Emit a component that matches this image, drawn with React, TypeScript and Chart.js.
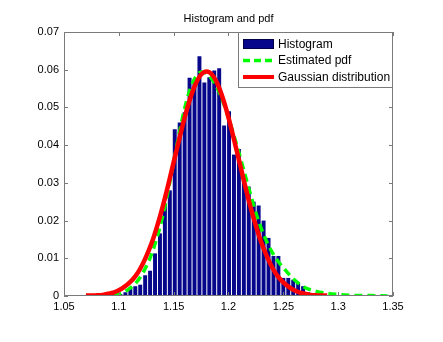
import React, { useEffect, useRef } from "react";
import { Chart, registerables } from "chart.js";

Chart.register(...registerables);

// Histogram bins (centres) and normalised heights
const binCenters = [
  1.1015, 1.106, 1.1105, 1.115, 1.1195, 1.124, 1.1285, 1.133, 1.1375, 1.142,
  1.1465, 1.151, 1.1555, 1.16, 1.1645, 1.169, 1.1735, 1.178, 1.1825, 1.187,
  1.1915, 1.196, 1.2005, 1.205, 1.2095, 1.214, 1.2185, 1.223, 1.2275, 1.232,
  1.2365, 1.241, 1.2455, 1.25, 1.2545, 1.259, 1.2635, 1.268, 1.2725, 1.277,
];
const binHeights = [
  0.0005, 0.001, 0.002, 0.0026, 0.003, 0.0055, 0.0067, 0.0113, 0.0166, 0.0245,
  0.028, 0.0442, 0.046, 0.0487, 0.0579, 0.057, 0.0636, 0.0566, 0.058, 0.0598,
  0.0604, 0.0452, 0.049, 0.0375, 0.039, 0.032, 0.029, 0.025, 0.024, 0.02,
  0.0154, 0.0106, 0.0106, 0.0048, 0.0048, 0.0043, 0.0034, 0.0026, 0.001, 0.0005,
];

// Estimated pdf (kernel density)
const estX = [
  1.095, 1.1, 1.105, 1.11, 1.115, 1.12, 1.125, 1.13, 1.135, 1.14, 1.145, 1.15,
  1.155, 1.16, 1.165, 1.17, 1.175, 1.18, 1.185, 1.19, 1.195, 1.2, 1.205, 1.21,
  1.215, 1.22, 1.225, 1.23, 1.235, 1.24, 1.245, 1.25, 1.255, 1.26, 1.265, 1.27,
  1.28, 1.29, 1.3, 1.31, 1.32, 1.33, 1.345,
];
const estY = [
  0.0002, 0.0006, 0.0011, 0.002, 0.0033, 0.0052, 0.0078, 0.0112, 0.0157, 0.0212,
  0.028, 0.0355, 0.043, 0.0497, 0.0548, 0.058, 0.0594, 0.059, 0.0575, 0.055,
  0.0515, 0.0472, 0.0425, 0.0375, 0.0322, 0.027, 0.022, 0.0178, 0.0143, 0.0115,
  0.0093, 0.0075, 0.0058, 0.0043, 0.0031, 0.0022, 0.0012, 0.0007, 0.0004, 0.0002,
  0.0001, 0.0001, 0.0,
];

// Gaussian distribution curve
const gaussX = [
  1.07, 1.075, 1.08, 1.085, 1.09, 1.095, 1.1, 1.105, 1.11, 1.115, 1.12, 1.125,
  1.13, 1.135, 1.14, 1.145, 1.15, 1.155, 1.16, 1.165, 1.17, 1.175, 1.18, 1.185,
  1.19, 1.195, 1.2, 1.205, 1.21, 1.215, 1.22, 1.225, 1.23, 1.235, 1.24, 1.245,
  1.25, 1.255, 1.26, 1.265, 1.27, 1.275, 1.28, 1.285, 1.29,
];
const gaussY = [
  0.0001, 0.0001, 0.0002, 0.0003, 0.0006, 0.0009, 0.0015, 0.0024, 0.0036, 0.0052,
  0.0075, 0.0105, 0.0141, 0.0186, 0.0237, 0.0294, 0.0355, 0.0415, 0.0473, 0.0523,
  0.0562, 0.0587, 0.0595, 0.0587, 0.0562, 0.0523, 0.0473, 0.0415, 0.0355, 0.0294,
  0.0237, 0.0186, 0.0141, 0.0105, 0.0075, 0.0052, 0.0036, 0.0024, 0.0015, 0.0009,
  0.0006, 0.0003, 0.0002, 0.0001, 0.0001,
];

const xTicks = [1.05, 1.1, 1.15, 1.2, 1.25, 1.3, 1.35];
const yTicks = [0, 0.01, 0.02, 0.03, 0.04, 0.05, 0.06, 0.07];
const titleText = "Histogram and pdf";
const legendLabels = ["Histogram", "Estimated pdf", "Gaussian distribution"];

const FONT = "'Liberation Sans', Arial, sans-serif";
const NAVY = "#07078c";
const GREEN = "#00ff00";
const RED = "#ff0000";

const matlabPlugin = {
  id: "matlabDecor",
  afterDraw(chart: any) {
    const ctx = chart.ctx as CanvasRenderingContext2D;
    const { left, right, top, bottom } = chart.chartArea;
    const xs = chart.scales.x;
    const ys = chart.scales.y;
    ctx.save();
    // box
    ctx.strokeStyle = "#7a7a7a";
    ctx.lineWidth = 1;
    ctx.strokeRect(Math.round(left) + 0.5, Math.round(top) + 0.5, Math.round(right - left) - 1, Math.round(bottom - top) - 1);
    // inward ticks
    ctx.beginPath();
    const tl = 4;
    xTicks.forEach((v) => {
      const px = Math.round(xs.getPixelForValue(v)) + 0.5;
      ctx.moveTo(px, bottom);
      ctx.lineTo(px, bottom - tl);
      ctx.moveTo(px, top);
      ctx.lineTo(px, top + tl);
    });
    yTicks.forEach((v) => {
      const py = Math.round(ys.getPixelForValue(v)) + 0.5;
      ctx.moveTo(left, py);
      ctx.lineTo(left + tl, py);
      ctx.moveTo(right, py);
      ctx.lineTo(right - tl, py);
    });
    ctx.stroke();

    // title
    ctx.fillStyle = "#000";
    ctx.font = `11px ${FONT}`;
    ctx.textAlign = "center";
    ctx.textBaseline = "middle";
    ctx.fillText(titleText, (left + right) / 2, 19);

    // legend
    const bx = 238.5, by = 32.5, bw = 154, bh = 55;
    ctx.fillStyle = "#fff";
    ctx.fillRect(bx, by, bw, bh);
    ctx.strokeStyle = "#7a7a7a";
    ctx.strokeRect(bx, by, bw, bh);
    const rows = [44, 60.5, 77];
    // histogram swatch
    ctx.fillStyle = NAVY;
    ctx.fillRect(243, 39, 31, 10);
    ctx.strokeStyle = "#000044";
    ctx.strokeRect(243.5, 39.5, 30, 9);
    // green dashed
    ctx.beginPath();
    ctx.setLineDash([7, 4]);
    ctx.strokeStyle = GREEN;
    ctx.lineWidth = 3.5;
    ctx.moveTo(243, rows[1]);
    ctx.lineTo(274, rows[1]);
    ctx.stroke();
    ctx.setLineDash([]);
    // red line
    ctx.beginPath();
    ctx.strokeStyle = RED;
    ctx.lineWidth = 4;
    ctx.moveTo(243, rows[2]);
    ctx.lineTo(274, rows[2]);
    ctx.stroke();
    ctx.fillStyle = "#000";
    ctx.textAlign = "left";
    ctx.font = `12px ${FONT}`;
    legendLabels.forEach((t, i) => ctx.fillText(t, 278, rows[i] + 0.5));
    ctx.restore();
  },
};

export default function App() {
  const ref = useRef<HTMLCanvasElement>(null);
  useEffect(() => {
    if (!ref.current) return;
    const chart = new Chart(ref.current, {
      type: "bar",
      data: {
        datasets: [
          {
            type: "line",
            label: legendLabels[2],
            data: gaussX.map((x, i) => ({ x, y: gaussY[i] })),
            borderColor: RED,
            borderWidth: 4.5,
            pointRadius: 0,
            cubicInterpolationMode: "monotone",
            fill: false,
            order: 1,
          } as any,
          {
            type: "line",
            label: legendLabels[1],
            data: estX.map((x, i) => ({ x, y: estY[i] })),
            borderColor: GREEN,
            borderWidth: 3.5,
            borderDash: [8, 5],
            pointRadius: 0,
            cubicInterpolationMode: "monotone",
            fill: false,
            order: 2,
          } as any,
          {
            type: "bar",
            label: legendLabels[0],
            data: binCenters.map((x, i) => ({ x, y: binHeights[i] })),
            backgroundColor: NAVY,
            borderColor: "#03035a",
            borderWidth: 0,
            barPercentage: 0.8,
            categoryPercentage: 1,
            order: 3,
          } as any,
        ],
      },
      options: {
        responsive: false,
        animation: false,
        layout: { padding: { left: 0, top: 32, right: 50, bottom: 0 } },
        plugins: {
          legend: { display: false },
          title: { display: false },
          tooltip: { enabled: false },
        },
        scales: {
          x: {
            type: "linear",
            min: 1.05,
            max: 1.35,
            offset: false,
            grid: { display: false, drawTicks: false },
            border: { display: false },
            afterBuildTicks: (s: any) => {
              s.ticks = xTicks.map((v) => ({ value: v }));
            },
            afterFit: (s: any) => {
              s.height = 46;
            },
            ticks: {
              autoSkip: false,
              maxRotation: 0,
              padding: 4,
              color: "#000",
              font: { family: FONT, size: 11 },
              callback: (v: any) => String(+Number(v).toFixed(2)),
            },
          },
          y: {
            type: "linear",
            min: 0,
            max: 0.07,
            grid: { display: false, drawTicks: false },
            border: { display: false },
            afterBuildTicks: (s: any) => {
              s.ticks = yTicks.map((v) => ({ value: v }));
            },
            afterFit: (s: any) => {
              s.width = 64;
            },
            ticks: {
              autoSkip: false,
              padding: 5,
              color: "#000",
              font: { family: FONT, size: 11 },
              callback: (v: any) => String(+Number(v).toFixed(2)),
            },
          },
        },
      },
      plugins: [matlabPlugin],
    });
    return () => chart.destroy();
  }, []);
  return (
    <div style={{ position: "fixed", left: 0, top: 0, width: 443, height: 342, background: "#fff" }}>
      <canvas ref={ref} width={443} height={342} />
    </div>
  );
}
